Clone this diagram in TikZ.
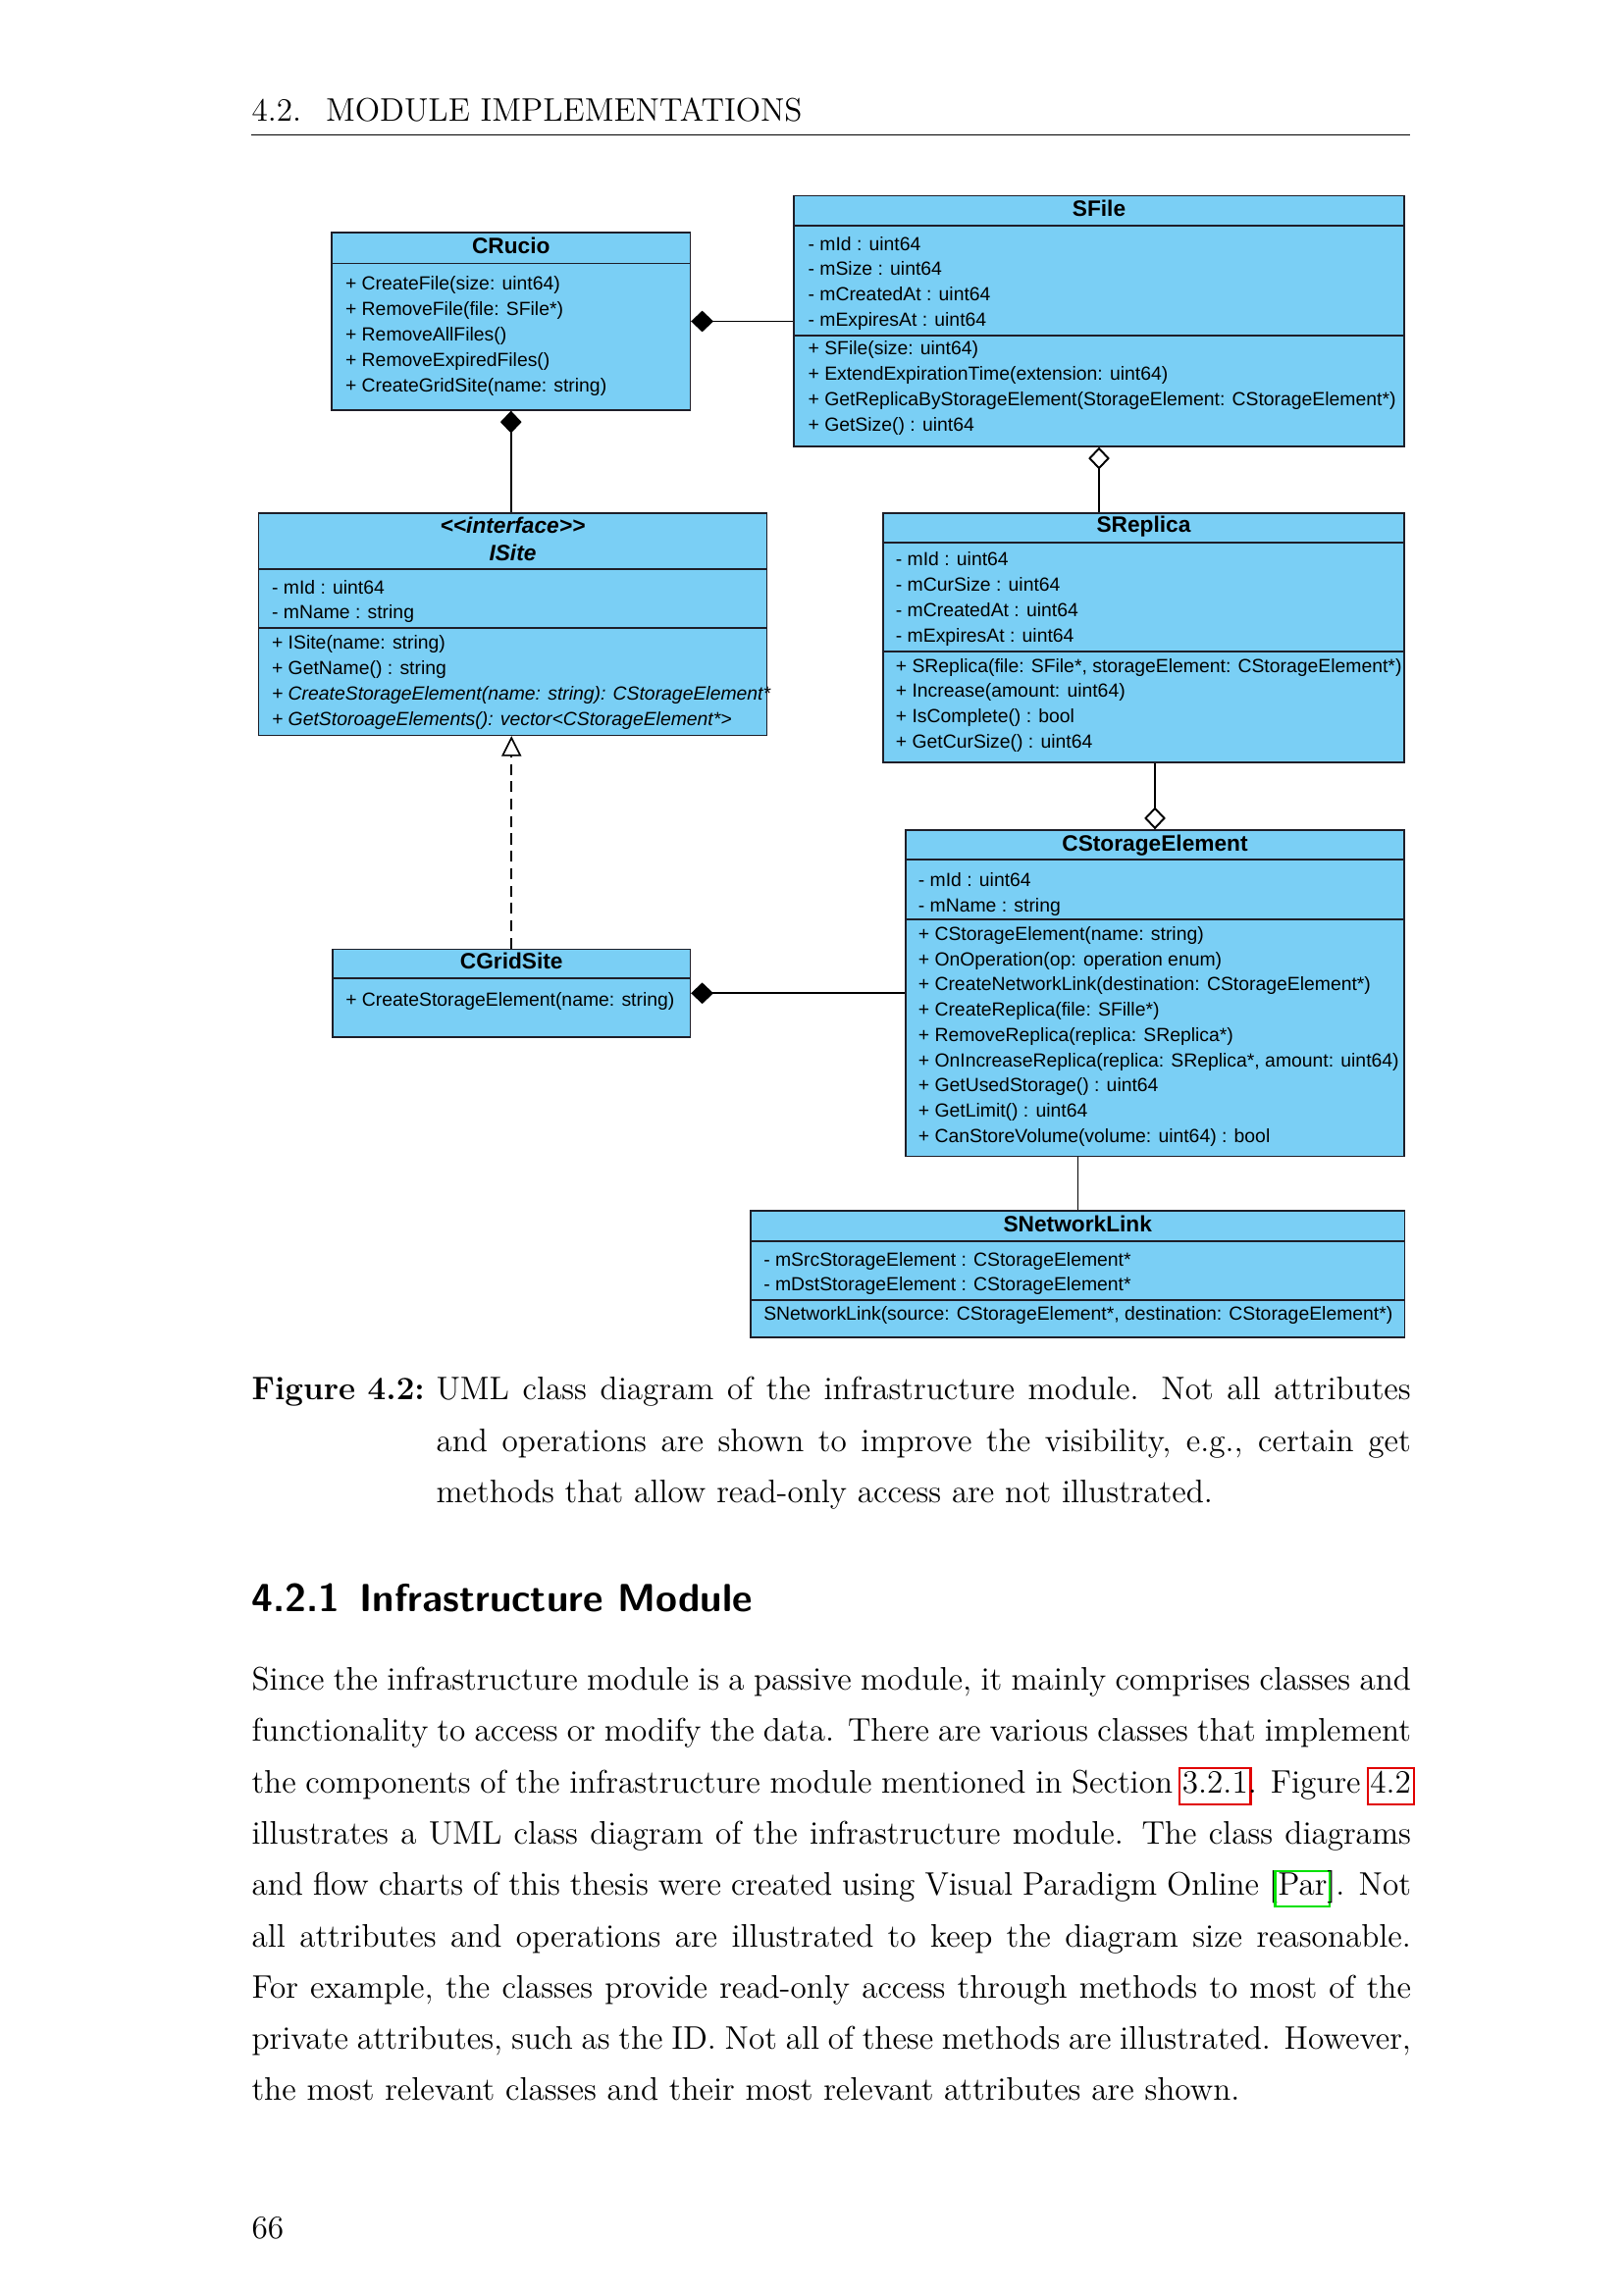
\documentclass[tikz,border=0pt]{standalone}
\usepackage{fontspec}
\setmainfont{lmroman12-regular}[Extension=.otf, BoldFont=lmroman12-bold, ItalicFont=lmroman12-italic]
\newfontfamily\umlfont{Liberation Sans}
\usetikzlibrary{arrows.meta,fit}

\definecolor{umlblue}{RGB}{122,207,245}
\definecolor{umlborder}{RGB}{30,30,40}
\definecolor{linkred}{RGB}{225,0,0}
\definecolor{citegreen}{RGB}{0,225,0}

% justified lines of the page text
\newcommand\fullline[1]{\makebox[150mm][s]{#1}}
\newcommand\capline[1]{\makebox[126.1mm][s]{#1}}
\newcommand\linkbox[2]{\rlap{\kern-1.4pt{\color{#1}\fboxsep=0pt\fboxrule=0.8pt\fbox{\kern0.6pt\phantom{#2}\kern0.6pt\rule[-3.8pt]{0pt}{12.4pt}}}}#2}

\begin{document}
\begin{tikzpicture}[x=0.126965mm, y=-0.126965mm,
    classbox/.style={draw=umlborder, fill=umlblue, line width=0.5pt, inner sep=0pt},
    divider/.style={draw=umlborder, line width=0.5pt},
    classname/.style={font=\umlfont\bfseries\fontsize{8.2}{9}\selectfont, inner sep=0pt, text height=5.9pt, text depth=1.6pt},
    member/.style={anchor=west, font=\umlfont\fontsize{7}{9.25}\selectfont, inner sep=0pt, text height=5.2pt, text depth=1.4pt},
    link/.style={line width=0.7pt},
    compose/.style={link, {Diamond[length=2.9mm, width=2.75mm]}-},
    aggregate/.style={link, {Diamond[open, fill=white, length=2.9mm, width=2.75mm]}-},
    realize/.style={line width=0.6pt, dash pattern=on 4pt off 2.4pt, -{Triangle[open, fill=white, length=2.6mm, width=2.55mm]}},
    pagetext/.style={anchor=base west, inner sep=0pt, font=\fontsize{12}{14.5}\selectfont}]

  \useasboundingbox (0,0) rectangle (1654,2339);

  % Running head
  \node[pagetext] (head) at (256,124) {4.2.\hspace{9pt}MODULE IMPLEMENTATIONS};
  \draw[line width=0.4pt] (256,137.5) -- (1437,137.5);

  % Class boxes
  \node[classbox, fit={(338,237) (703.5,418)}] (crucio) {};
  \node[classbox, fit={(809,199.5) (1431,455)}] (sfile) {};
  \node[classbox, fit={(263.5,523) (781.5,749.5)}] (isite) {};
  \node[classbox, fit={(900,523) (1431,777)}] (srep) {};
  \node[classbox, fit={(923,846) (1431,1178.5)}] (cse) {};
  \node[classbox, fit={(339,967.5) (703.5,1057)}] (cgrid) {};
  \node[classbox, fit={(765,1234) (1431.5,1363)}] (snet) {};

  % Compartment lines
  \draw[divider] (crucio.west |- 0,268.5) -- (crucio.east |- 0,268.5);
  \draw[divider] (sfile.west |- 0,230) -- (sfile.east |- 0,230);
  \draw[divider] (sfile.west |- 0,342) -- (sfile.east |- 0,342);
  \draw[divider] (isite.west |- 0,580) -- (isite.east |- 0,580);
  \draw[divider] (isite.west |- 0,640) -- (isite.east |- 0,640);
  \draw[divider] (srep.west |- 0,553) -- (srep.east |- 0,553);
  \draw[divider] (srep.west |- 0,664) -- (srep.east |- 0,664);
  \draw[divider] (cse.west |- 0,876) -- (cse.east |- 0,876);
  \draw[divider] (cse.west |- 0,937) -- (cse.east |- 0,937);
  \draw[divider] (cgrid.west |- 0,997) -- (cgrid.east |- 0,997);
  \draw[divider] (snet.west |- 0,1265) -- (snet.east |- 0,1265);
  \draw[divider] (snet.west |- 0,1325) -- (snet.east |- 0,1325);

  % CRucio
  \node[classname] (crucio-name) at (crucio.north |- 0,252.5) {CRucio};
  \node[member] (crucio-o1) at (351.5,290) {+ CreateFile(size: uint64)};
  \node[member] (crucio-o2) at (351.5,316) {+ RemoveFile(file: SFile*)};
  \node[member] (crucio-o3) at (351.5,342) {+ RemoveAllFiles()};
  \node[member] (crucio-o4) at (351.5,368) {+ RemoveExpiredFiles()};
  \node[member] (crucio-o5) at (351.5,394) {+ CreateGridSite(name: string)};

  % SFile
  \node[classname] (sfile-name) at (sfile.north |- 0,214.5) {SFile};
  \node[member] (sfile-a1) at (823,250) {- mId : uint64};
  \node[member] (sfile-a2) at (823,275.7) {- mSize : uint64};
  \node[member] (sfile-a3) at (823,301.4) {- mCreatedAt : uint64};
  \node[member] (sfile-a4) at (823,327.1) {- mExpiresAt : uint64};
  \node[member] (sfile-o1) at (823,356.7) {+ SFile(size: uint64)};
  \node[member] (sfile-o2) at (823,382.4) {+ ExtendExpirationTime(extension: uint64)};
  \node[member] (sfile-o3) at (823,408.1) {+ GetReplicaByStorageElement(StorageElement: CStorageElement*)};
  \node[member] (sfile-o4) at (823,433.8) {+ GetSize() : uint64};

  % ISite
  \node[classname] (isite-stereo) at (isite.north |- 0,537.3) {\itshape <\kern0pt<interface>\kern0pt>};
  \node[classname] (isite-name) at (isite.north |- 0,565.7) {\itshape ISite};
  \node[member] (isite-a1) at (276.5,600) {- mId : uint64};
  \node[member] (isite-a2) at (276.5,625.7) {- mName : string};
  \node[member] (isite-o1) at (276.5,656.7) {+ ISite(name: string)};
  \node[member] (isite-o2) at (276.5,682.4) {+ GetName() : string};
  \node[member] (isite-o3) at (276.5,708.1) {\itshape + CreateStorageElement(name: string): CStorageElement*};
  \node[member] (isite-o4) at (276.5,733.8) {\itshape + GetStoroageElements(): vector<CStorageElement*>};

  % SReplica
  \node[classname] (srep-name) at (srep.north |- 0,537) {SReplica};
  \node[member] (srep-a1) at (912.3,571.7) {- mId : uint64};
  \node[member] (srep-a2) at (912.3,597.4) {- mCurSize : uint64};
  \node[member] (srep-a3) at (912.3,623.1) {- mCreatedAt : uint64};
  \node[member] (srep-a4) at (912.3,648.8) {- mExpiresAt : uint64};
  \node[member] (srep-o1) at (912.3,680) {+ SReplica(file: SFile*, storageElement: CStorageElement*)};
  \node[member] (srep-o2) at (912.3,705.7) {+ Increase(amount: uint64)};
  \node[member] (srep-o3) at (912.3,731.4) {+ IsComplete() : bool};
  \node[member] (srep-o4) at (912.3,757.1) {+ GetCurSize() : uint64};

  % CStorageElement
  \node[classname] (cse-name) at (cse.north |- 0,861.5) {CStorageElement};
  \node[member] (cse-a1) at (935.3,898.3) {- mId : uint64};
  \node[member] (cse-a2) at (935.3,924) {- mName : string};
  \node[member] (cse-o1) at (935.3,953.3) {+ CStorageElement(name: string)};
  \node[member] (cse-o2) at (935.3,979) {+ OnOperation(op: operation enum)};
  \node[member] (cse-o3) at (935.3,1004.7) {+ CreateNetworkLink(destination: CStorageElement*)};
  \node[member] (cse-o4) at (935.3,1030.4) {+ CreateReplica(file: SFille*)};
  \node[member] (cse-o5) at (935.3,1056.1) {+ RemoveReplica(replica: SReplica*)};
  \node[member] (cse-o6) at (935.3,1081.8) {+ OnIncreaseReplica(replica: SReplica*, amount: uint64)};
  \node[member] (cse-o7) at (935.3,1107.5) {+ GetUsedStorage() : uint64};
  \node[member] (cse-o8) at (935.3,1133.2) {+ GetLimit() : uint64};
  \node[member] (cse-o9) at (935.3,1158.9) {+ CanStoreVolume(volume: uint64) : bool};

  % CGridSite
  \node[classname] (cgrid-name) at (cgrid.north |- 0,982) {CGridSite};
  \node[member] (cgrid-o1) at (351.7,1020) {+ CreateStorageElement(name: string)};

  % SNetworkLink
  \node[classname] (snet-name) at (snet.north |- 0,1249.5) {SNetworkLink};
  \node[member] (snet-a1) at (777.7,1285) {- mSrcStorageElement : CStorageElement*};
  \node[member] (snet-a2) at (777.7,1310.7) {- mDstStorageElement : CStorageElement*};
  \node[member] (snet-o1) at (777.7,1340.7) {SNetworkLink(source: CStorageElement*, destination: CStorageElement*)};

  % Relations
  \draw[compose] (crucio.east) -- (crucio.east -| sfile.west);
  \draw[compose] (crucio.south) -- (crucio.south |- isite.north);
  \draw[aggregate] (sfile.south) -- (sfile.south |- srep.north);
  \draw[aggregate] (cse.north) -- (cse.north |- srep.south);
  \draw[realize] (cgrid.north) -- (cgrid.north |- isite.south);
  \draw[compose] (cgrid.east) -- (cgrid.east -| cse.west);
  \draw[line width=0.35pt] (snet.north) -- (snet.north |- cse.south);

  % Caption
  \node[pagetext] (capfig) at (256,1426) {\bfseries Figure 4.2:};
  \node[pagetext] (cap1) at (444,1426) {\capline{UML class diagram of the infrastructure module. Not all attributes}};
  \node[pagetext] (cap2) at (444,1479) {\capline{and operations are shown to improve the visibility, e.g., certain get}};
  \node[pagetext] (cap3) at (444,1531) {methods that allow read-only access are not illustrated.};

  % Section and paragraph
  \node[pagetext, font=\sffamily\bfseries\fontsize{14.4}{17}\selectfont] (sec) at (256,1642.5) {4.2.1\hspace{0.5em}Infrastructure Module};
  \node[pagetext] (par1) at (256,1722.5) {\fullline{Since the infrastructure module is a passive module, it mainly comprises classes and}};
  \node[pagetext] (par2) at (256,1774.8) {\fullline{functionality to access or modify the data. There are various classes that implement}};
  \node[pagetext] (par3) at (256,1827.1) {\fullline{the components of the infrastructure module mentioned in Section \linkbox{linkred}{3.2.1}. Figure \linkbox{linkred}{4.2}}};
  \node[pagetext] (par4) at (256,1879.4) {\fullline{illustrates a UML class diagram of the infrastructure module. The class diagrams}};
  \node[pagetext] (par5) at (256,1931.7) {\fullline{and flow charts of this thesis were created using Visual Paradigm Online [\linkbox{citegreen}{Par}]. Not}};
  \node[pagetext] (par6) at (256,1984) {\fullline{all attributes and operations are illustrated to keep the diagram size reasonable.}};
  \node[pagetext] (par7) at (256,2036.3) {\fullline{For example, the classes provide read-only access through methods to most of the}};
  \node[pagetext] (par8) at (256,2088.6) {\fullline{private attributes, such as the ID. Not all of these methods are illustrated. However,}};
  \node[pagetext] (par9) at (256,2140.9) {the most relevant classes and their most relevant attributes are shown.};

  % Page number
  \node[pagetext] (pagenum) at (256,2281) {66};
\end{tikzpicture}
\end{document}
